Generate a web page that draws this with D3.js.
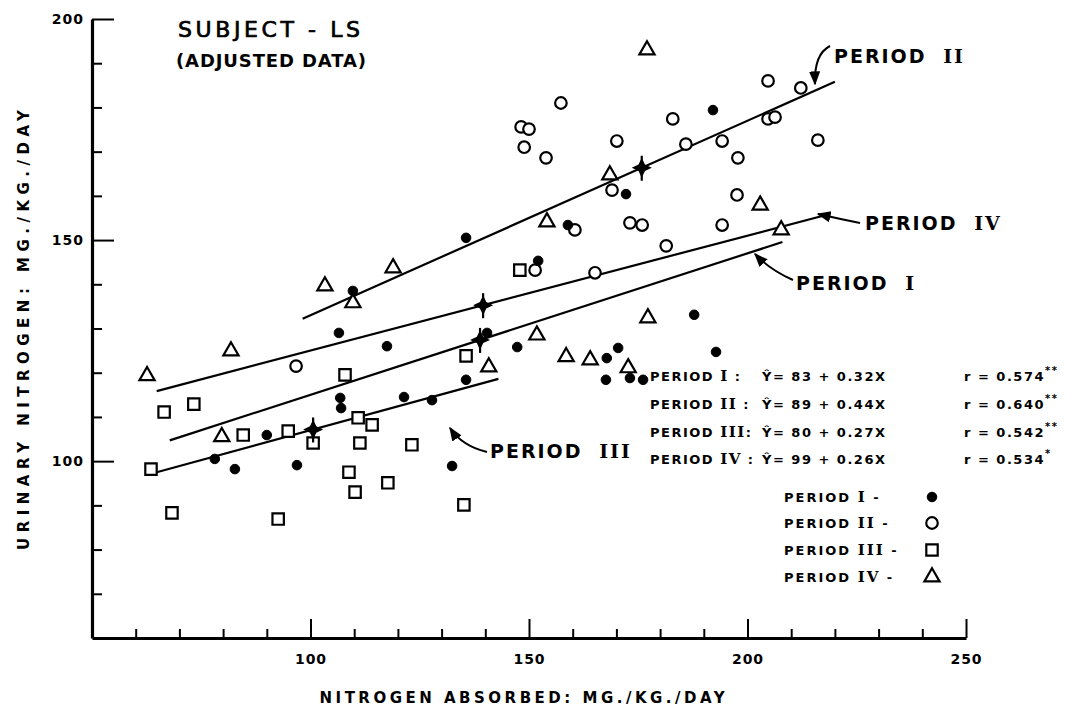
<!DOCTYPE html>
<html lang="en">
<head>
<meta charset="UTF-8">
<title>Subject LS - urinary vs absorbed nitrogen</title>
<script src="https://cdn.jsdelivr.net/npm/d3@7"></script>
<style>
  body { margin: 0; background: #fff; }
  text { font-family: "DejaVu Sans", sans-serif; font-weight: bold; fill: #000; }
  .num { font-family: "DejaVu Serif", serif; }
</style>
</head>
<body>
<div id="chart"></div>
<script>
// period I - filled dots (x = N absorbed, y = urinary N)
var p1X = [78.1, 82.7, 90.0, 96.9, 106.8, 107.0, 106.5, 109.7, 117.5, 121.4, 127.8, 132.4, 135.6, 135.6, 140.4, 147.3, 152.1, 158.9, 172.2, 167.6, 173.1, 176.1, 167.8, 170.4, 187.8, 192.8, 192.1];
var p1Y = [100.5, 98.2, 105.9, 99.1, 114.3, 112.0, 129.0, 138.5, 126.0, 114.5, 113.8, 98.9, 150.5, 118.4, 129.0, 125.8, 145.3, 153.4, 160.4, 118.4, 118.8, 118.4, 123.3, 125.6, 133.1, 124.7, 179.4];
// period II - open circles
var p2X = [96.7, 148.2, 150.0, 148.9, 153.9, 157.3, 170.1, 182.9, 185.9, 194.2, 197.8, 204.7, 212.2, 204.7, 206.3, 216.1, 169.0, 197.6, 160.5, 173.1, 175.9, 194.2, 181.4, 151.4, 165.1];
var p2Y = [121.5, 175.6, 175.1, 171.0, 168.6, 181.0, 172.4, 177.4, 171.7, 172.4, 168.6, 186.0, 184.4, 177.4, 177.8, 172.6, 161.3, 160.2, 152.3, 153.9, 153.4, 153.4, 148.7, 143.2, 142.6];
// period III - open squares
var p3X = [63.5, 66.5, 73.3, 68.3, 84.6, 92.6, 94.9, 100.6, 107.9, 108.8, 110.2, 110.9, 114.1, 111.3, 117.7, 123.2, 135.1, 135.6, 147.9];
var p3Y = [98.2, 111.1, 112.9, 88.3, 105.9, 86.9, 106.8, 104.1, 119.5, 97.5, 93.0, 109.8, 108.2, 104.1, 95.1, 103.7, 90.1, 123.8, 143.2];
// period IV - open triangles
var p4X = [62.6, 81.8, 103.3, 109.7, 79.7, 118.9, 140.8, 151.8, 154.1, 168.5, 177.0, 202.9, 207.7, 158.5, 164.0, 172.7, 177.2];
var p4Y = [119.3, 124.9, 139.6, 135.8, 105.5, 143.7, 121.3, 128.5, 154.1, 164.7, 193.0, 157.9, 152.3, 123.6, 122.9, 121.1, 132.4];

// regression lines  Y = a + bX, drawn over the x range of each period
var periods = ["I", "II", "III", "IV"];
var intercepts = [83, 89, 80, 99];
var slopes = [0.32, 0.44, 0.27, 0.26];
var lineFrom = [67.8, 98.2, 64.8, 64.8];
var lineTo = [208, 220, 143, 218.4];
var meanX = [138.8, 175.8, 100.6, 139.5];
var rValues = ["0.574", "0.640", "0.542", "0.534"];
var rStars = ["**", "**", "**", "*"];

var xTicks = d3.range(60, 251, 10);
var yTicks = d3.range(70, 201, 10);
var xLabels = [100, 150, 200, 250];
var yLabels = [100, 150, 200];

var svg = d3.select("#chart").append("svg")
    .attr("width", 1086)
    .attr("height", 711);

var x = d3.scaleLinear().domain([50, 250]).range([92, 966]);
var y = d3.scaleLinear().domain([60, 200]).range([638, 19]);

// axes
var gx = svg.append("g")
    .attr("transform", "translate(0," + y(60) + ")")
    .call(d3.axisBottom(x).tickValues(xTicks).tickSize(-9).tickSizeOuter(0).tickPadding(16)
        .tickFormat(function (d) { return xLabels.indexOf(d) >= 0 ? d : ""; }));
gx.selectAll(".tick line").attr("stroke-width", 2)
    .attr("y2", function (d) { return d % 50 === 0 ? -19 : -9; });
gx.selectAll("text").style("font-size", "14px").style("letter-spacing", "1px");

var gy = svg.append("g")
    .attr("transform", "translate(" + x(50) + ",0)")
    .call(d3.axisLeft(y).tickValues(yTicks).tickSize(-10).tickSizeOuter(0).tickPadding(8)
        .tickFormat(function (d) { return yLabels.indexOf(d) >= 0 ? d : ""; }));
gy.selectAll(".tick line").attr("stroke-width", 2)
    .attr("x2", function (d) { return d % 50 === 0 ? 22 : 10; });
gy.selectAll("text").style("font-size", "14px").style("letter-spacing", "1px");

svg.selectAll(".domain").attr("stroke-width", 3.2);

// axis titles
svg.append("text")
    .attr("x", 522).attr("y", 703)
    .attr("text-anchor", "middle")
    .attr("textLength", 405)
    .style("font-size", "15px")
    .text("NITROGEN  ABSORBED: MG./KG./DAY");

svg.append("text")
    .attr("transform", "translate(29,330) rotate(-90)")
    .attr("text-anchor", "middle")
    .attr("textLength", 440)
    .style("font-size", "15px")
    .text("URINARY  NITROGEN: MG./KG./DAY");

// title
svg.append("text").attr("x", 178).attr("y", 37)
    .attr("textLength", 182)
    .style("font-size", "22px").style("font-weight", "normal")
    .attr("stroke", "#000").attr("stroke-width", 0.7)
    .text("SUBJECT - LS");
svg.append("text").attr("x", 176).attr("y", 67)
    .attr("textLength", 190)
    .style("font-size", "18px")
    .text("(ADJUSTED DATA)");

// regression lines
var lineGen = d3.line().x(function (d) { return x(d[0]); }).y(function (d) { return y(d[1]); });
periods.forEach(function (p, i) {
    var pts = [lineFrom[i], lineTo[i]].map(function (v) { return [v, intercepts[i] + slopes[i] * v]; });
    svg.append("path").attr("d", lineGen(pts))
        .attr("fill", "none").attr("stroke", "#000").attr("stroke-width", 2.2);
});

// markers
var sym = {
    I: d3.symbol().type(d3.symbolCircle).size(72),
    II: d3.symbol().type(d3.symbolCircle).size(105),
    III: d3.symbol().type(d3.symbolSquare).size(130),
    IV: d3.symbol().type(d3.symbolTriangle).size(100)
};

function drawPoints(xs, ys, key, filled) {
    svg.append("g").selectAll("path")
        .data(xs.map(function (v, i) { return [v, ys[i]]; }))
        .enter().append("path")
        .attr("transform", function (d) { return "translate(" + x(d[0]) + "," + y(d[1]) + ")"; })
        .attr("d", sym[key]())
        .attr("fill", filled ? "#000" : "#fff")
        .attr("stroke", "#000")
        .attr("stroke-width", filled ? 1 : 2.2);
}
drawPoints(p3X, p3Y, "III", false);
drawPoints(p4X, p4Y, "IV", false);
drawPoints(p2X, p2Y, "II", false);
drawPoints(p1X, p1Y, "I", true);

// mean points - four pointed stars
var star4 = {
    draw: function (ctx, size) {
        var r = Math.sqrt(size), k = r * 0.32;
        ctx.moveTo(0, -r); ctx.lineTo(k, -k); ctx.lineTo(r, 0); ctx.lineTo(k, k);
        ctx.lineTo(0, r); ctx.lineTo(-k, k); ctx.lineTo(-r, 0); ctx.lineTo(-k, -k);
        ctx.closePath();
    }
};
meanX.forEach(function (mx, i) {
    var cx = x(mx), cy = y(intercepts[i] + slopes[i] * mx);
    var g = svg.append("g").attr("transform", "translate(" + cx + "," + cy + ")");
    g.append("path").attr("d", d3.symbol().type(star4).size(100)()).attr("fill", "#000");
    g.append("line").attr("y1", -12).attr("y2", 13).attr("stroke", "#000").attr("stroke-width", 2.2);
});

// period labels with arrows
svg.append("defs").append("marker")
    .attr("id", "head").attr("viewBox", "0 0 10 10")
    .attr("refX", 9).attr("refY", 5)
    .attr("markerWidth", 7).attr("markerHeight", 7)
    .attr("orient", "auto")
    .append("path").attr("d", "M0,1 L10,5 L0,9 Z").attr("fill", "#000");

function periodLabel(px, py, num, size) {
    var t = svg.append("text").attr("x", px).attr("y", py)
        .style("font-size", size + "px").style("letter-spacing", "2px");
    t.append("tspan").text("PERIOD ");
    t.append("tspan").attr("class", "num").attr("dx", 8).text(num);
}
periodLabel(834, 63, "II", 19);
periodLabel(865, 230, "IV", 19);
periodLabel(796, 290, "I", 19);
periodLabel(490, 458, "III", 19);

var arrows = [
    "M830,46 Q814,54 815,84",
    "M860,223 Q840,219 818,214",
    "M793,280 Q770,270 755,254",
    "M487,452 Q462,446 450,428"
];
svg.selectAll("path.arrow").data(arrows).enter().append("path")
    .attr("class", "arrow")
    .attr("d", function (d) { return d; })
    .attr("fill", "none").attr("stroke", "#000").attr("stroke-width", 2)
    .attr("marker-end", "url(#head)");

// equations
var eqY = [381, 409, 437, 464];
periods.forEach(function (p, i) {
    var t = svg.append("text").attr("x", 650).attr("y", eqY[i])
        .style("font-size", "13px").style("letter-spacing", "1.5px");
    t.append("tspan").text("PERIOD ");
    t.append("tspan").attr("class", "num").style("font-size", "15px").text(p);
    t.append("tspan").text(p.length < 3 ? " :" : ":");
    svg.append("text").attr("x", 762).attr("y", eqY[i]).style("font-size", "13px")
        .style("letter-spacing", "1.5px")
        .text("\u0176= " + intercepts[i] + " + " + slopes[i].toFixed(2) + "X");
    var r = svg.append("text").attr("x", 964).attr("y", eqY[i]).style("font-size", "13px")
        .style("letter-spacing", "1.5px")
        .text("r = " + rValues[i]);
    r.append("tspan").attr("dy", -7).style("font-size", "10px").text(rStars[i]);
});

// legend
var legY = [497, 523, 550, 577];
periods.forEach(function (p, i) {
    var t = svg.append("text").attr("x", 784).attr("y", legY[i] + 5)
        .style("font-size", "13px").style("letter-spacing", "2px");
    t.append("tspan").text("PERIOD ");
    t.append("tspan").attr("class", "num").style("font-size", "15px").text(p);
    t.append("tspan").text(" -");
    svg.append("path")
        .attr("transform", "translate(932," + legY[i] + ")")
        .attr("d", sym[p]())
        .attr("fill", p === "I" ? "#000" : "#fff")
        .attr("stroke", "#000")
        .attr("stroke-width", p === "I" ? 1 : 2.2);
});
</script>
</body>
</html>
